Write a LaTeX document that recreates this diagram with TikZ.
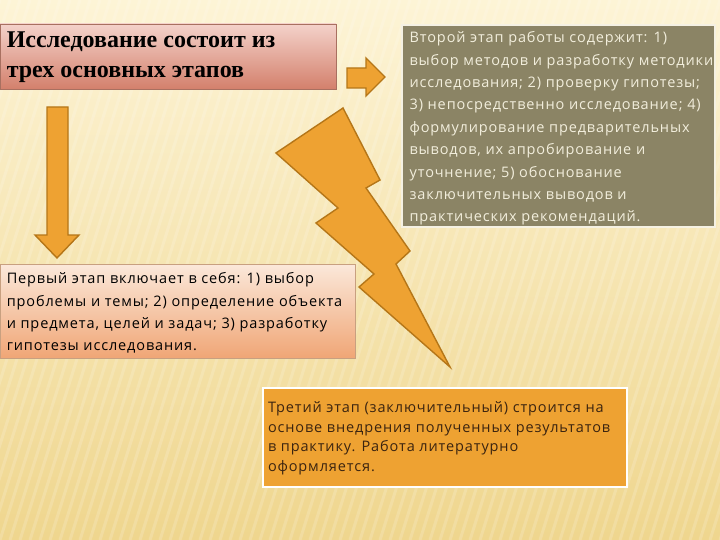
\documentclass[tikz,border=0pt]{standalone}
\usepackage{fontspec}
\setmainfont{Liberation Serif}
\newfontfamily\bodyfont[LetterSpace=6]{Open Sans}
\definecolor{bgtop}{HTML}{FDF4D6}
\definecolor{bgbottom}{HTML}{EFD68E}
\definecolor{titletop}{HTML}{F4D2CA}
\definecolor{titlebottom}{HTML}{D3806C}
\definecolor{titleline}{HTML}{A87060}
\definecolor{greyfill}{HTML}{8B8465}
\definecolor{greytext}{HTML}{F2EEDC}
\definecolor{peachtop}{HTML}{FBE8DA}
\definecolor{peachbottom}{HTML}{F0A676}
\definecolor{peachline}{HTML}{C8A080}
\definecolor{orangefill}{HTML}{EEA232}
\definecolor{orangeline}{HTML}{B57618}
\definecolor{darktext}{HTML}{3B2410}
\tikzset{
  titlebox/.style={draw=titleline, line width=0.8pt, top color=titletop, bottom color=titlebottom, inner sep=0pt},
  greybox/.style={draw=greytext!80, line width=1.2pt, fill=greyfill, inner sep=0pt},
  peachbox/.style={draw=peachline, line width=0.8pt, top color=peachtop, bottom color=peachbottom, inner sep=0pt},
  orangebox/.style={draw=white, line width=2.4pt, fill=orangefill, inner sep=0pt},
  boxtext/.style={anchor=west, align=left, inner sep=0pt, font=\bodyfont\fontsize{14.5}{22.4}\selectfont},
  bolt/.style={fill=orangefill, draw=orangeline, line width=1.4pt, line join=miter}
}
\begin{document}
\begin{tikzpicture}[x=1pt,y=-1pt]
  \useasboundingbox (0,0) rectangle (720,540);
  % background
  \shade[top color=bgtop, bottom color=bgbottom] (0,0) rectangle (720,540);
  \foreach \s in {0,10,...,900}
    \draw[white, opacity=0.16, line width=3pt] (\s,0) -- ++(-170,540);

  % boxes
  \node[titlebox, minimum width=336pt, minimum height=65pt] (title) at (168,56.5) {};
  \node[greybox, minimum width=313pt, minimum height=202pt] (second) at (558.5,126) {};
  \node[peachbox, minimum width=355pt, minimum height=94pt] (first) at (177.5,311) {};
  \node[orangebox, minimum width=364pt, minimum height=99pt] (third) at (445,437.5) {};

  % texts
  \node[anchor=west, align=left, inner sep=0pt, font=\bfseries\fontsize{24}{30}\selectfont]
    (titletext) at ([xshift=7pt,yshift=-1pt]title.west) {Исследование состоит из\\трех основных этапов};
  \node[boxtext, text=greytext] (secondtext) at ([xshift=8pt,yshift=-2.5pt]second.west)
    {Второй этап работы содержит: 1)\\выбор методов и разработку методики\\исследования; 2) проверку гипотезы;\\3) непосредственно исследование; 4)\\формулирование предварительных\\выводов, их апробирование и\\уточнение; 5) обоснование\\заключительных выводов и\\практических рекомендаций.};
  \node[boxtext, text=black] (firsttext) at ([xshift=7pt,yshift=-2pt]first.west)
    {Первый этап включает в себя: 1) выбор\\проблемы и темы; 2) определение объекта\\и предмета, целей и задач; 3) разработку\\гипотезы исследования.};
  \node[boxtext, text=darktext, font=\bodyfont\fontsize{14.5}{19.5}\selectfont] (thirdtext) at ([xshift=6pt,yshift=-1pt]third.west)
    {Третий этап (заключительный) строится на\\основе внедрения полученных результатов\\в практику. Работа литературно\\оформляется.};

  % arrows
  \draw[bolt] (347,68) -- (366,68) -- (366,58) -- (385,77) -- (366,96) -- (366,88) -- (347,88) -- cycle;
  \draw[bolt] (47,107) -- (68,107) -- (68,235) -- (79,235) -- (57,258) -- (35,235) -- (47,235) -- cycle;
  \draw[bolt] (343,108) -- (380,180) -- (366,188) -- (410,251) -- (396,264) -- (450,367)
    -- (359,287) -- (374,274) -- (316,223) -- (338,208) -- (276,153) -- cycle;
\end{tikzpicture}
\end{document}
